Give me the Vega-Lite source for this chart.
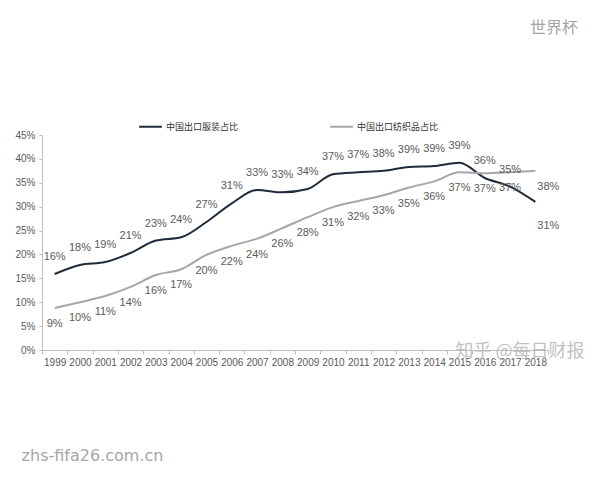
{
  "$schema": "https://vega.github.io/schema/vega-lite/v6.json",
  "width": 506,
  "height": 215,
  "autosize": {"type": "none"},
  "padding": {"left": 42, "top": 135, "right": 52, "bottom": 130},
  "background": "white",
  "title": {"text": "世界杯", "anchor": "end", "frame": "group", "offset": 78, "dx": 30, "font": "Noto Sans CJK SC", "fontSize": 16, "fontWeight": "normal", "color": "#a6a6a6"},
  "config": {
    "view": {"stroke": null},
    "font": "Liberation Sans Narrow, Liberation Sans, Arial",
    "legend": {
      "orient": "none", "legendX": 96, "legendY": -21, "direction": "horizontal",
      "symbolType": "stroke", "symbolSize": 520, "symbolStrokeWidth": 2,
      "labelFont": "Noto Sans CJK SC", "labelFontSize": 9, "labelColor": "#333333",
      "columnPadding": 87, "labelOffset": 3, "title": null
    }
  },
  "datasets": {
    "share": [
      {"year": "1999", "series": "中国出口服装占比", "value": 15.9, "label": "16%"},
      {"year": "2000", "series": "中国出口服装占比", "value": 17.8, "label": "18%"},
      {"year": "2001", "series": "中国出口服装占比", "value": 18.4, "label": "19%"},
      {"year": "2002", "series": "中国出口服装占比", "value": 20.3, "label": "21%"},
      {"year": "2003", "series": "中国出口服装占比", "value": 22.9, "label": "23%"},
      {"year": "2004", "series": "中国出口服装占比", "value": 23.6, "label": "24%"},
      {"year": "2005", "series": "中国出口服装占比", "value": 26.8, "label": "27%"},
      {"year": "2006", "series": "中国出口服装占比", "value": 30.7, "label": "31%"},
      {"year": "2007", "series": "中国出口服装占比", "value": 33.5, "label": "33%"},
      {"year": "2008", "series": "中国出口服装占比", "value": 33.0, "label": "33%"},
      {"year": "2009", "series": "中国出口服装占比", "value": 33.7, "label": "34%"},
      {"year": "2010", "series": "中国出口服装占比", "value": 36.8, "label": "37%"},
      {"year": "2011", "series": "中国出口服装占比", "value": 37.2, "label": "37%"},
      {"year": "2012", "series": "中国出口服装占比", "value": 37.5, "label": "38%"},
      {"year": "2013", "series": "中国出口服装占比", "value": 38.3, "label": "39%"},
      {"year": "2014", "series": "中国出口服装占比", "value": 38.5, "label": "39%"},
      {"year": "2015", "series": "中国出口服装占比", "value": 39.2, "label": "39%"},
      {"year": "2016", "series": "中国出口服装占比", "value": 36.0, "label": "36%"},
      {"year": "2017", "series": "中国出口服装占比", "value": 34.2, "label": "35%"},
      {"year": "2018", "series": "中国出口服装占比", "value": 31.0, "label": "31%"},
      {"year": "1999", "series": "中国出口纺织品占比", "value": 8.8, "label": "9%"},
      {"year": "2000", "series": "中国出口纺织品占比", "value": 10.0, "label": "10%"},
      {"year": "2001", "series": "中国出口纺织品占比", "value": 11.3, "label": "11%"},
      {"year": "2002", "series": "中国出口纺织品占比", "value": 13.2, "label": "14%"},
      {"year": "2003", "series": "中国出口纺织品占比", "value": 15.7, "label": "16%"},
      {"year": "2004", "series": "中国出口纺织品占比", "value": 16.9, "label": "17%"},
      {"year": "2005", "series": "中国出口纺织品占比", "value": 19.9, "label": "20%"},
      {"year": "2006", "series": "中国出口纺织品占比", "value": 21.8, "label": "22%"},
      {"year": "2007", "series": "中国出口纺织品占比", "value": 23.3, "label": "24%"},
      {"year": "2008", "series": "中国出口纺织品占比", "value": 25.5, "label": "26%"},
      {"year": "2009", "series": "中国出口纺织品占比", "value": 27.8, "label": "28%"},
      {"year": "2010", "series": "中国出口纺织品占比", "value": 29.9, "label": "31%"},
      {"year": "2011", "series": "中国出口纺织品占比", "value": 31.2, "label": "32%"},
      {"year": "2012", "series": "中国出口纺织品占比", "value": 32.4, "label": "33%"},
      {"year": "2013", "series": "中国出口纺织品占比", "value": 34.0, "label": "35%"},
      {"year": "2014", "series": "中国出口纺织品占比", "value": 35.3, "label": "36%"},
      {"year": "2015", "series": "中国出口纺织品占比", "value": 37.2, "label": "37%"},
      {"year": "2016", "series": "中国出口纺织品占比", "value": 37.0, "label": "37%"},
      {"year": "2017", "series": "中国出口纺织品占比", "value": 37.2, "label": "37%"},
      {"year": "2018", "series": "中国出口纺织品占比", "value": 37.5, "label": "38%"}
    ]
  },
  "data": {"name": "share"},
  "encoding": {
    "x": {
      "field": "year", "type": "ordinal", "bandPosition": 0.5,
      "scale": {"type": "band", "paddingInner": 0, "paddingOuter": 0},
      "axis": {
        "labelAngle": 0, "tickBand": "extent", "domainColor": "#bfbfbf", "tickColor": "#bfbfbf",
        "tickSize": 4, "labelColor": "#595959", "labelFontSize": 10, "labelPadding": 3, "grid": false,
        "title": "zhs-fifa26.com.cn", "titleX": 50, "titleY": 105, "titleAlign": "center", "titleBaseline": "middle",
        "titleFont": "DejaVu Sans", "titleFontSize": 16, "titleFontWeight": "normal", "titleColor": "#a6a6a6"
      }
    },
    "y": {
      "field": "value", "type": "quantitative",
      "scale": {"domain": [0, 45], "nice": false},
      "axis": {
        "values": [0, 5, 10, 15, 20, 25, 30, 35, 40, 45], "labelExpr": "datum.value + '%'",
        "grid": false, "domainColor": "#bfbfbf", "tickColor": "#bfbfbf", "tickSize": 3,
        "labelColor": "#595959", "labelFontSize": 10, "labelPadding": 4, "title": null
      }
    }
  },
  "layer": [
    {
      "mark": {"type": "line", "interpolate": "monotone", "strokeWidth": 2},
      "encoding": {
        "color": {
          "field": "series", "type": "nominal",
          "scale": {"domain": ["中国出口服装占比", "中国出口纺织品占比"], "range": ["#1f2b3b", "#a6a6a6"]}
        }
      }
    },
    {
      "transform": [{"filter": "datum.series === '中国出口服装占比' && datum.year !== '2018'"}],
      "mark": {"type": "text", "dy": -17, "fontSize": 11, "fill": "#595959", "opacity": 0.99},
      "encoding": {"text": {"field": "label"}}
    },
    {
      "transform": [{"filter": "datum.series === '中国出口服装占比' && datum.year === '2018'"}],
      "mark": {"type": "text", "dy": 24, "dx": 13, "fontSize": 11, "fill": "#595959", "opacity": 0.99},
      "encoding": {"text": {"field": "label"}}
    },
    {
      "transform": [{"filter": "datum.series === '中国出口纺织品占比' && datum.year !== '2018'"}],
      "mark": {"type": "text", "dy": 16, "fontSize": 11, "fill": "#595959", "opacity": 0.99},
      "encoding": {"text": {"field": "label"}}
    },
    {
      "transform": [{"filter": "datum.series === '中国出口纺织品占比' && datum.year === '2018'"}],
      "mark": {"type": "text", "dy": 16, "dx": 13, "fontSize": 11, "fill": "#595959", "opacity": 0.99},
      "encoding": {"text": {"field": "label"}}
    },
    {
      "data": {"values": [{"year": "2017", "value": 0, "label": "知乎 @每日财报"}]},
      "mark": {"type": "text", "dx": 10, "dy": 2, "fontSize": 18, "font": "Noto Sans CJK SC", "fill": "#b8b8b8", "opacity": 0.85},
      "encoding": {"text": {"field": "label"}}
    }
  ]
}
